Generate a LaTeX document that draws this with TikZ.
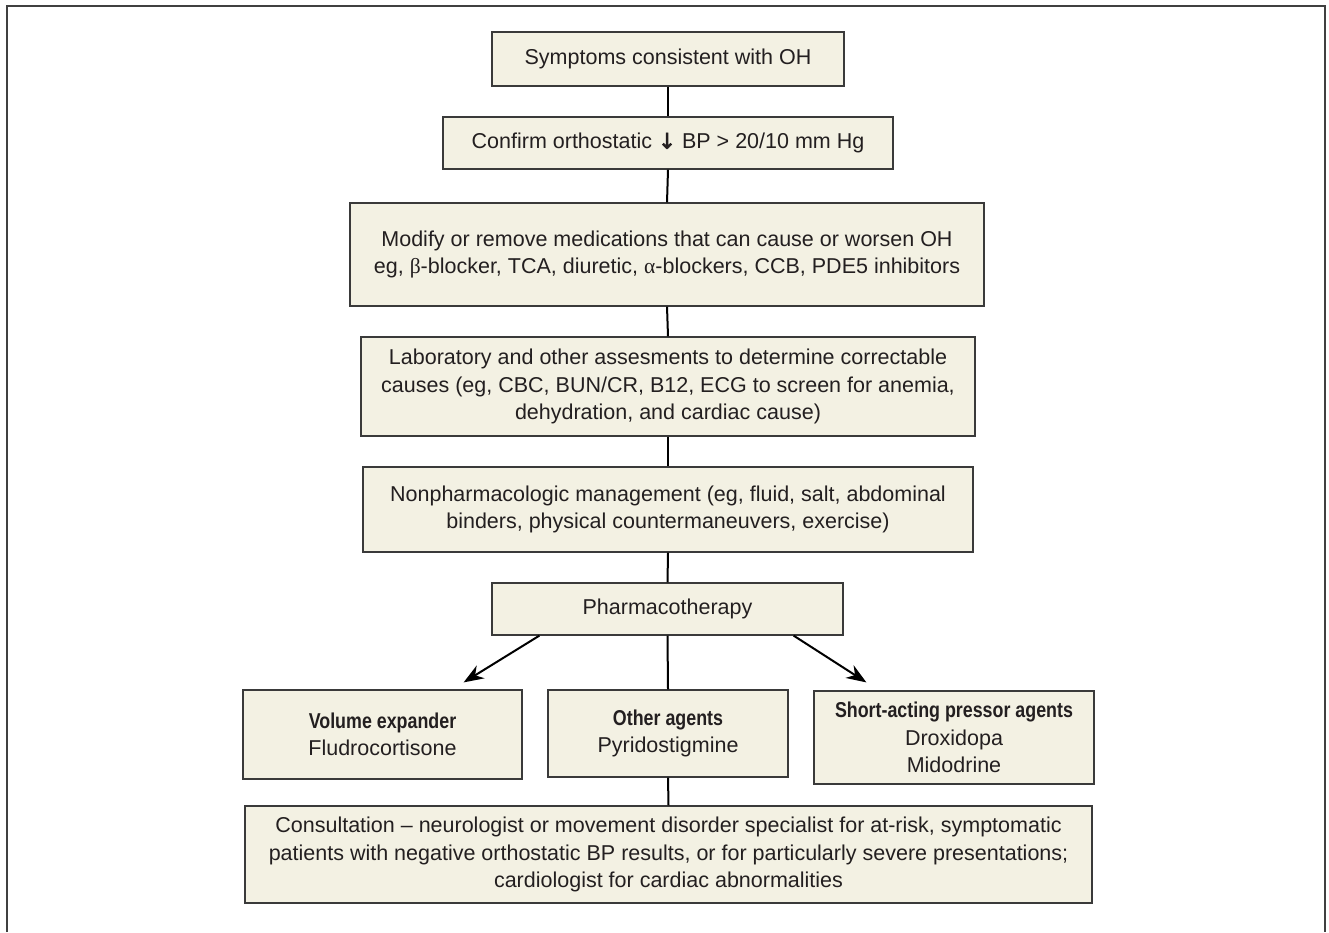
\documentclass[tikz,border=0pt]{standalone}
\usepackage{fontspec}
\setmainfont{Liberation Sans}
\newfontfamily\condb[FakeStretch=0.83]{Liberation Sans}
\newfontfamily\grk{Liberation Serif}
\newfontfamily\heavyarrow[FakeBold=3]{DejaVu Sans}
\usetikzlibrary{arrows.meta,shadows,calc}
\definecolor{boxfill}{HTML}{F3F1E3}
\definecolor{boxline}{HTML}{3A3A3A}
\definecolor{txt}{HTML}{231F20}
\begin{document}
\begin{tikzpicture}[x=1pt,y=-1pt,
  fbox/.style={draw=boxline, line width=1.2pt, fill=boxfill, inner sep=0pt, align=center,
    font=\fontsize{21.5}{27.5}\selectfont, text=txt,
    drop shadow={shadow xshift=1pt,shadow yshift=-1pt,fill=black!55}},
  link/.style={line width=2pt, draw=black},
  arr/.style={link, -{Stealth[length=20pt,width=15pt]}}]
\useasboundingbox (0,0) rectangle (1329,932);
\draw[line width=2pt, black!75] (7,932) -- (7,6) -- (1325,6) -- (1325,932);

\node[fbox, minimum width=352pt, minimum height=54pt] (S) at (668,59) {Symptoms consistent with OH};
\node[fbox, minimum width=450pt, minimum height=52pt] (C) at (668,143) {Confirm orthostatic {\heavyarrow ↓} BP > 20/10 mm Hg};
\node[fbox, minimum width=634pt, minimum height=103pt] (M) at (667,254.5) {Modify or remove medications that can cause or worsen OH\\eg, {\grk β}-blocker, TCA, diuretic, {\grk α}-blockers, CCB, PDE5 inhibitors};
\node[fbox, minimum width=614pt, minimum height=99pt] (L) at (668,386.5) {Laboratory and other assesments to determine correctable\\causes (eg, CBC, BUN/CR, B12, ECG to screen for anemia,\\dehydration, and cardiac cause)};
\node[fbox, minimum width=610pt, minimum height=85pt] (N) at (668,509.5) {Nonpharmacologic management (eg, fluid, salt, abdominal\\binders, physical countermaneuvers, exercise)};
\node[fbox, minimum width=351pt, minimum height=52pt] (P) at (667.5,609) {Pharmacotherapy};
\node[fbox, minimum width=279pt, minimum height=89pt] (V) at (382.5,734.5) {{\condb\bfseries Volume expander}\\Fludrocortisone};
\node[fbox, minimum width=240pt, minimum height=87pt] (O) at (668,733.5) {{\condb\bfseries Other agents}\\Pyridostigmine};
\node[fbox, minimum width=280pt, minimum height=93pt] (Sh) at (954,737.5) {{\condb\bfseries Short-acting pressor agents}\\Droxidopa\\Midodrine};
\node[fbox, minimum width=847pt, minimum height=97pt] (K) at (668.5,854.5) {Consultation – neurologist or movement disorder specialist for at-risk, symptomatic\\patients with negative orthostatic BP results, or for particularly severe presentations;\\cardiologist for cardiac abnormalities};

\draw[link] (S.south) -- (C.north);
\draw[link] (C.south) -- (M.north);
\draw[link] (M.south) -- (L.north);
\draw[link] (L.south) -- (N.north);
\draw[link] (N.south) -- (P.north);
\draw[link] (P.south) -- (O.north);
\draw[link] (O.south) -- (K.north);
\draw[arr] ([xshift=48pt]P.south west) -- ([xshift=-59pt,yshift=7pt]V.north east);
\draw[arr] ([xshift=-50pt]P.south east) -- ([xshift=53pt,yshift=8pt]Sh.north west);
\end{tikzpicture}
\end{document}
